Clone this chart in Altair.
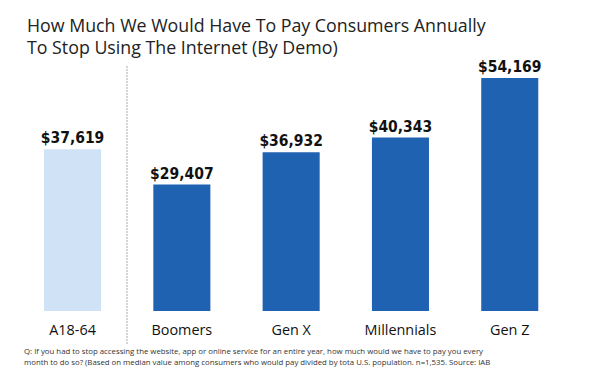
import altair as alt
import pandas as pd

categories = ["A18-64", "Boomers", "Gen X", "Millennials", "Gen Z"]
values = [37619, 29407, 36932, 40343, 54169]
labels = ["$37,619", "$29,407", "$36,932", "$40,343", "$54,169"]
kinds = ["total", "demo", "demo", "demo", "demo"]

title_lines = ["How Much We Would Have To Pay Consumers Annually",
               "To Stop Using The Internet (By Demo)"]
note_lines = ["Q: If you had to stop accessing the website, app or online service for an entire year, how much would we have to pay you every",
              "month to do so? (Based on median value among consumers who would pay divided by tota U.S. population. n=1,535. Source: IAB"]

df = pd.DataFrame({"cat": categories, "value": values, "label": labels, "kind": kinds})

W, H = 584, 359
xscale = alt.Scale(domain=categories, range=[9.9, 556.4], paddingInner=0.478, paddingOuter=0.239)
yscale = alt.Scale(domain=[0, 60000], range=[303, 45])
X = alt.X("cat:N", scale=xscale, axis=None, sort=categories)

base = alt.Chart(df)

bars = base.mark_bar().encode(
    x=X,
    y=alt.Y("value:Q", scale=yscale, axis=None),
    color=alt.Color("kind:N", scale=alt.Scale(domain=["total", "demo"], range=["#cfe2f6", "#1f62b2"]), legend=None),
)

vlabels = base.mark_text(baseline="alphabetic", dy=-6, font="DejaVu Sans Condensed", fontWeight="bold",
                         fontSize=15.5, color="#111111").encode(
    x=X, y=alt.Y("value:Q", scale=yscale, axis=None), text="label:N")

clabels = base.mark_text(baseline="middle", font="Open Sans", fontSize=14.4, color="#111111").encode(
    x=X, y=alt.value(323), text="cat:N")

divider = alt.Chart(pd.DataFrame({"a": [0]})).mark_rule(color="#aaaaaa", strokeDash=[2, 1], strokeWidth=1).encode(
    x=alt.value(119), y=alt.value(58), y2=alt.value(337))

tdf = pd.DataFrame({"t": title_lines, "i": [0, 1]})
title = alt.Chart(tdf).mark_text(align="left", baseline="middle", font="Open Sans", fontSize=17.8,
                                 fontWeight=500, color="#222222").encode(
    x=alt.value(19),
    y=alt.Y("i:Q", scale=alt.Scale(domain=[0, 1], range=[19, 41]), axis=None),
    text="t:N")

ndf = pd.DataFrame({"t": note_lines, "i": [0, 1]})
note = alt.Chart(ndf).mark_text(align="left", baseline="middle", font="Open Sans", fontSize=7.8,
                                color="#333333").encode(
    x=alt.value(16),
    y=alt.Y("i:Q", scale=alt.Scale(domain=[0, 1], range=[344, 355]), axis=None),
    text="t:N")

chart = alt.layer(bars, vlabels, clabels, divider, title, note).resolve_scale(y="independent").properties(
    width=W, height=H, autosize=alt.AutoSizeParams(type="none"), padding=0
).configure_view(stroke=None)

chart.save("out.html", embed_options={"renderer": "svg", "actions": False})
